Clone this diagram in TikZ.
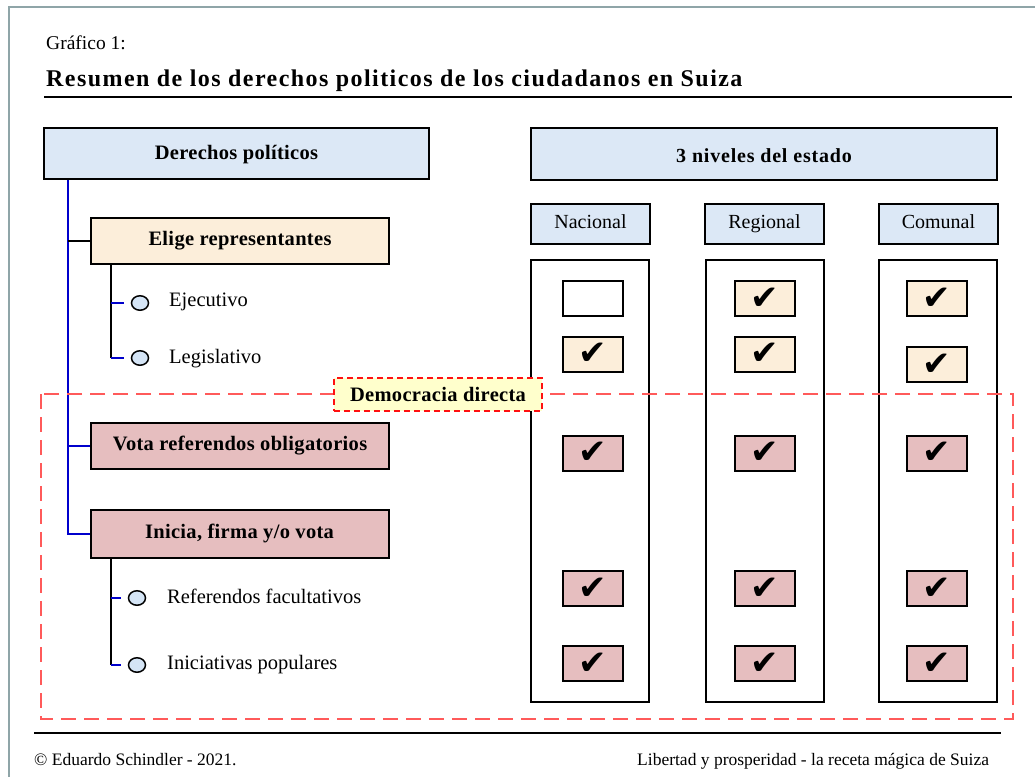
\documentclass[tikz,border=0pt]{standalone}
\usepackage{fontspec}
\setmainfont{Liberation Serif}
\newfontfamily\symfont{DejaVu Sans}
\usetikzlibrary{shapes.geometric}
\definecolor{hdrblue}{HTML}{DCE8F6}
\definecolor{beige}{HTML}{FCEEDA}
\definecolor{rose}{HTML}{E6BEBF}
\definecolor{lblyellow}{HTML}{FFFFCC}
\definecolor{dashred}{HTML}{FF5A5A}
\definecolor{lblred}{HTML}{FF1010}
\definecolor{trunkblue}{HTML}{0000CC}
\definecolor{framegray}{HTML}{8FA5A8}
\definecolor{dotblue}{HTML}{D5E5F6}
\begin{document}
\begin{tikzpicture}[x=1pt,y=-1pt,
  box/.style={draw=black, line width=2pt, inner sep=0pt, rectangle, align=center},
  bodyfont/.style={font=\fontsize{20.5}{24}\selectfont},
  boldfont/.style={font=\fontsize{20.5}{24}\selectfont\bfseries\addfontfeature{LetterSpace=1.5}},
  hdrbox/.style={box, fill=hdrblue},
  catbox/.style={box, minimum width=298, minimum height=46, boldfont, text height=14pt, text depth=5pt},
  lvlbox/.style={hdrbox, minimum width=119, minimum height=40, font=\fontsize{20}{24}\selectfont, text height=13pt, text depth=5pt},
  colbox/.style={box, fill=white, minimum width=118, minimum height=442},
  chk/.style={box, minimum width=60, minimum height=35, font=\symfont\fontsize{34}{36}\selectfont},
  dot/.style={ellipse, draw=black, line width=1.5pt, fill=dotblue, minimum width=17, minimum height=14.5, inner sep=0pt},
  txt/.style={bodyfont, inner sep=0pt, anchor=base west},
  trunk/.style={draw=trunkblue, line width=2pt},
  kline/.style={draw=black, line width=2pt},
  tick/.style={draw=trunkblue, line width=2pt},
]
\useasboundingbox (0,0) rectangle (1035,776);
\fill[white] (0,0) rectangle (1035,776);
% frame
\draw[framegray, line width=2pt] (9,790) -- (9,7) -- (1045,7);

% titles
\node[txt, font=\fontsize{19.5}{24}\selectfont] (graf) at (46,49) {Gráfico 1:};
\node[txt, font=\fontsize{24}{28}\selectfont\bfseries\addfontfeature{LetterSpace=6}] (title) at (46,86) {Resumen de los derechos politicos de los ciudadanos en Suiza};
\draw[black, line width=2pt] (44,97) -- (1012,97);

% left tree
\node[hdrbox, minimum width=385, minimum height=51, boldfont, text height=15pt, text depth=3pt] (der) at (236.5,153.5) {Derechos políticos};
\node[catbox, fill=beige] (elige) at (240,240.5) {Elige representantes};
\node[catbox, fill=rose] (vota) at (240,445.5) {Vota referendos obligatorios};
\node[catbox, fill=rose, minimum height=48] (ini) at (239.5,534) {Inicia, firma y/o vota};

\coordinate (trk) at ([xshift=25pt]der.south west);
\draw[trunk] (trk) |- (ini.west);
\draw[trunk] (trk |- vota.west) -- (vota.west);
\draw[kline] (trk |- elige.west) -- (elige.west);

\node[dot] (e1) at (140,303) {};
\node[dot] (e2) at (140,358) {};
\node[txt] (ejec) at (169,306) {Ejecutivo};
\node[txt] (legi) at (169,363) {Legislativo};
\coordinate (ev) at ([xshift=21pt]elige.south west);
\draw[kline] (ev) -- (ev |- e2);
\draw[tick] (ev |- e1) -- ([xshift=-7pt]e1.west);
\draw[tick] (ev |- e2) -- ([xshift=-7pt]e2.west);

\node[dot] (i1) at (137,598) {};
\node[dot] (i2) at (137,665) {};
\node[txt] (refe) at (167,603) {Referendos facultativos};
\node[txt] (inic) at (167,669) {Iniciativas populares};
\coordinate (iv) at ([xshift=21pt]ini.south west);
\draw[kline] (iv) -- (iv |- i2);
\draw[tick] (iv |- i1) -- ([xshift=-7pt]i1.west);
\draw[tick] (iv |- i2) -- ([xshift=-7pt]i2.west);

% right side
\node[hdrbox, minimum width=466, minimum height=52, font=\fontsize{20}{24}\selectfont\bfseries\addfontfeature{LetterSpace=4}, text height=16pt, text depth=0pt] (niv) at (764,154) {3 niveles del estado};
\node[lvlbox] (nac) at (590.5,224) {Nacional};
\node[lvlbox] (reg) at (764.5,224) {Regional};
\node[lvlbox] (com) at (938.5,224) {Comunal};
\node[colbox] (cnac) at (590,481) {};
\node[colbox] (creg) at (764.5,481) {};
\node[colbox] (ccom) at (938,481) {};

% dashed region (drawn over the columns)
\draw[dashred, line width=2pt, dash pattern=on 15pt off 8pt] (41,394) rectangle (1013,719);

% checkboxes
\node[chk, fill=white] (n1) at (592.5,298.5) {};
\node[chk, fill=beige] (n2) at (592.5,354) {✔};
\node[chk, fill=rose] (n3) at (592.5,453) {✔};
\node[chk, fill=rose] (n4) at (592.5,588.5) {✔};
\node[chk, fill=rose] (n5) at (592.5,663.5) {✔};
\node[chk, fill=beige] (r1) at (765,298.5) {✔};
\node[chk, fill=beige] (r2) at (765,354) {✔};
\node[chk, fill=rose] (r3) at (765,453) {✔};
\node[chk, fill=rose] (r4) at (765,588.5) {✔};
\node[chk, fill=rose] (r5) at (765,663.5) {✔};
\node[chk, fill=beige] (m1) at (937,298.5) {✔};
\node[chk, fill=beige] (m2) at (937,364.5) {✔};
\node[chk, fill=rose] (m3) at (937,453) {✔};
\node[chk, fill=rose] (m4) at (937,588.5) {✔};
\node[chk, fill=rose] (m5) at (937,663.5) {✔};

% label of dashed region
\node[draw=lblred, line width=2pt, dash pattern=on 6pt off 4pt, fill=lblyellow, minimum width=208, minimum height=33, inner sep=0pt, boldfont, text height=15pt, text depth=1pt] (dd) at (438,394.5) {Democracia directa};

% footer
\draw[black, line width=2pt] (34,733) -- (1001,733);
\node[txt, font=\fontsize{17.5}{20}\selectfont] (copy) at (34,765) {© Eduardo Schindler - 2021.};
\node[txt, font=\fontsize{17.5}{20}\selectfont] (lib) at (637,765) {Libertad y prosperidad - la receta mágica de Suiza};
\end{tikzpicture}
\end{document}
